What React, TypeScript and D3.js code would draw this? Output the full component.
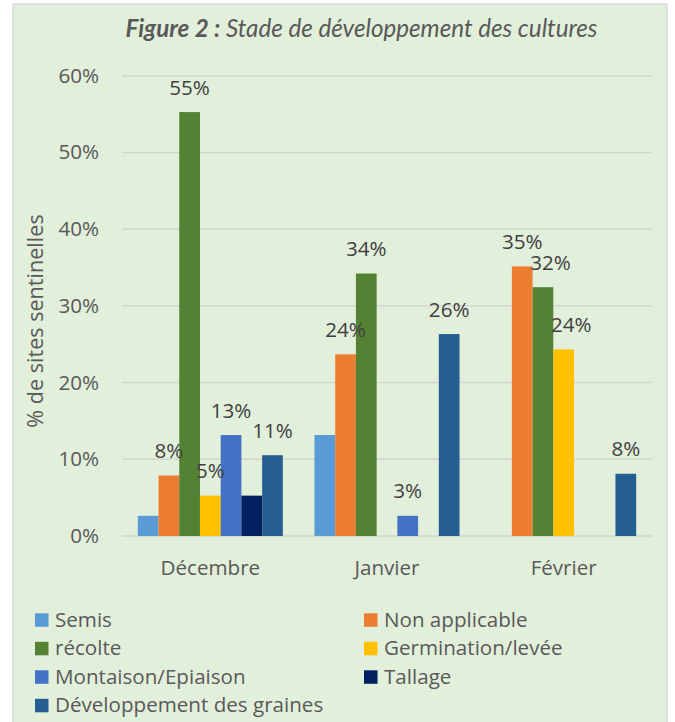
import React from "react";
import * as d3 from "d3";

const months = ["Décembre", "Janvier", "Février"];
const seriesNames = [
  "Semis",
  "Non applicable",
  "récolte",
  "Germination/levée",
  "Montaison/Epiaison",
  "Tallage",
  "Développement des graines",
];
const seriesColors = ["#5B9BD5", "#ED7D31", "#548235", "#FFC000", "#4472C4", "#002060", "#255E91"];
// values per series, in month order (fraction of sentinel sites)
const semis = [0.0263, 0.1316, 0];
const nonApplicable = [0.0789, 0.2368, 0.3514];
const recolte = [0.5526, 0.3421, 0.3243];
const germination = [0.0526, 0, 0.2432];
const montaison = [0.1316, 0.0263, 0];
const tallage = [0.0526, 0, 0];
const developpement = [0.1053, 0.2632, 0.0811];
const seriesValues = [semis, nonApplicable, recolte, germination, montaison, tallage, developpement];
const labelledSeries = [false, true, true, true, true, false, true];
const yTicks = [0, 0.1, 0.2, 0.3, 0.4, 0.5, 0.6];

const W = 675;
const H = 722;
const FONT = "'Open Sans', 'Noto Sans', sans-serif";
const TITLE_FONT = "Lato, 'Open Sans', sans-serif";
const TEXT = "#595959";
const LABEL = "#404040";
const FS = 20.6;

export default function App() {
  const left = 122;
  const right = 652;
  const top = 75.7;
  const bottom = 536;

  const x0 = d3.scaleBand<string>().domain(months).range([left, right]).paddingInner(0.179).paddingOuter(0.0895);
  const x1 = d3.scaleBand<string>().domain(seriesNames).range([0, x0.bandwidth()]).padding(0);
  const y = d3.scaleLinear().domain([0, 0.6]).range([bottom, top]);
  const fmt = d3.format(".0%");

  // nudges used to avoid label overlaps (as in the original)
  const nudge = (m: string, s: string) =>
    m === "Février" && (s === "récolte" || s === "Germination/levée") ? 7.5 : 0;

  return (
    <svg width={W} height={H} style={{ position: "absolute", left: 0, top: 0 }} fontFamily={FONT}>
      <rect x={0} y={0} width={W} height={H} fill="#fff" />
      <rect x={13} y={4} width={654} height={H + 10} fill="#E2EFDA" stroke="#D9D9D9" strokeWidth={1.5} />
      <text x={361.5} y={36.5} textAnchor="middle" fontSize={24.2} fill={TEXT} fontStyle="italic" fontFamily={TITLE_FONT}>
        <tspan fontWeight="bold">Figure 2 :</tspan> Stade de développement des cultures
      </text>

      {yTicks.map((t) => (
        <g key={t}>
          <line x1={left} x2={right} y1={y(t)} y2={y(t)} stroke="#D3D6D0" strokeWidth={1.5} />
          <text x={99} y={y(t) + 7} textAnchor="end" fontSize={FS} fill={TEXT}>
            {fmt(t)}
          </text>
        </g>
      ))}

      <text transform={`translate(43,321) rotate(-90)`} textAnchor="middle" fontSize={21.6} fill={TEXT}>
        % de sites sentinelles
      </text>

      {months.map((m, mi) => (
        <g key={m}>
          {seriesNames.map((s, si) => {
            const v = seriesValues[si][mi];
            if (!v) return null;
            const bx = (x0(m) as number) + (x1(s) as number);
            return (
              <rect key={s} x={bx} y={y(v)} width={x1.bandwidth()} height={y(0) - y(v)} fill={seriesColors[si]} />
            );
          })}
          {seriesNames.map((s, si) => {
            const v = seriesValues[si][mi];
            if (!v || !labelledSeries[si]) return null;
            const cx = (x0(m) as number) + (x1(s) as number) + x1.bandwidth() / 2 + nudge(m, s);
            return (
              <text key={s} x={cx} y={y(v) - 17.5} textAnchor="middle" fontSize={FS} fill={LABEL}>
                {fmt(v)}
              </text>
            );
          })}
          <text x={(x0(m) as number) + x0.bandwidth() / 2} y={575} textAnchor="middle" fontSize={FS} fill={TEXT}>
            {m}
          </text>
        </g>
      ))}

      {seriesNames.map((s, i) => {
        const col = i % 2;
        const row = Math.floor(i / 2);
        const lx = col === 0 ? 35 : 364;
        const ly = 613.3 + row * 28.5;
        return (
          <g key={s}>
            <rect x={lx} y={ly} width={13.5} height={13.5} fill={seriesColors[i]} />
            <text x={lx + 20} y={ly + 13.5} fontSize={FS} fill={TEXT}>
              {s}
            </text>
          </g>
        );
      })}
    </svg>
  );
}
